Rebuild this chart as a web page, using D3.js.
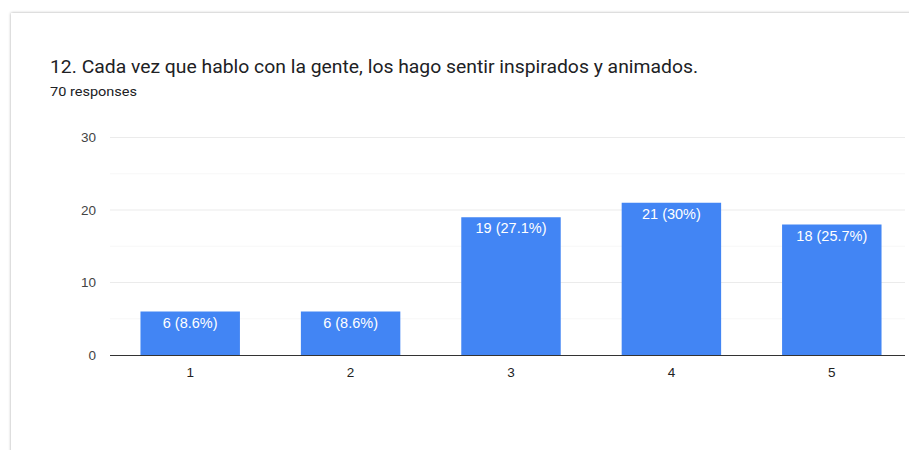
<!DOCTYPE html>
<html>
<head>
<meta charset="utf-8">
<script src="https://cdn.jsdelivr.net/npm/d3@7"></script>
<style>
  html, body { margin: 0; padding: 0; background: #fff; }
  svg { display: block; }
</style>
</head>
<body>
<svg id="chart" width="909" height="450"></svg>
<script>
// Survey question and response counts
const title = "12. Cada vez que hablo con la gente, los hago sentir inspirados y animados.";
const subtitle = "70 responses";
const categories = ["1", "2", "3", "4", "5"];
const counts = [6, 6, 19, 21, 18];
const percents = ["8.6%", "8.6%", "27.1%", "30%", "25.7%"];
const yTicks = [0, 10, 20, 30];
const yMinorTicks = [5, 15, 25];

const svg = d3.select("#chart");

// Card background with soft edge
const defs = svg.append("defs");
const f = defs.append("filter").attr("id", "shadow").attr("x", "-5%").attr("y", "-5%").attr("width", "110%").attr("height", "110%");
f.append("feDropShadow").attr("dx", 0).attr("dy", 0).attr("stdDeviation", 1.6).attr("flood-color", "#000").attr("flood-opacity", 0.35);

svg.append("rect")
  .attr("x", 11).attr("y", 13).attr("width", 930).attr("height", 460)
  .attr("fill", "#fff").attr("filter", "url(#shadow)");

svg.append("text")
  .attr("x", 50).attr("y", 73)
  .attr("font-family", "Roboto, 'Open Sans', sans-serif")
  .attr("font-size", 18).attr("fill", "#202124")
  .attr("textLength", 648).attr("lengthAdjust", "spacingAndGlyphs")
  .text(title);

svg.append("text")
  .attr("x", 50).attr("y", 95.5)
  .attr("font-family", "Roboto, sans-serif")
  .attr("font-size", 12.5).attr("fill", "#202124")
  .attr("textLength", 87).attr("lengthAdjust", "spacingAndGlyphs")
  .text(subtitle);

const plotLeft = 110, plotRight = 912, plotTop = 137.5, plotBottom = 355;

const x = d3.scaleBand().domain(categories).range([plotLeft, plotRight]).paddingInner(0.38).paddingOuter(0.19);
const y = d3.scaleLinear().domain([0, 30]).range([plotBottom, plotTop]);

// Gridlines
svg.append("g").selectAll("line").data(yMinorTicks).join("line")
  .attr("x1", plotLeft).attr("x2", 905)
  .attr("y1", d => y(d)).attr("y2", d => y(d))
  .attr("stroke", "#f7f7f7").attr("stroke-width", 1);

svg.append("g").selectAll("line").data(yTicks.filter(d => d > 0)).join("line")
  .attr("x1", plotLeft).attr("x2", 905)
  .attr("y1", d => y(d)).attr("y2", d => y(d))
  .attr("stroke", "#ebebeb").attr("stroke-width", 1);

// Y-axis labels
const yAxis = d3.axisLeft(y).tickValues(yTicks).tickSize(0).tickPadding(14);
const gy = svg.append("g").attr("transform", `translate(${plotLeft},0)`).call(yAxis);
gy.select(".domain").remove();
gy.selectAll("text")
  .attr("font-family", "Arial, 'Liberation Sans', sans-serif")
  .attr("font-size", 13.5).attr("fill", "#444");

// Bars
svg.append("g").selectAll("rect").data(categories).join("rect")
  .attr("x", d => x(d))
  .attr("y", (d, i) => y(counts[i]))
  .attr("width", x.bandwidth())
  .attr("height", (d, i) => y(0) - y(counts[i]))
  .attr("fill", "#4285f4");

// Value labels inside bars
svg.append("g").selectAll("text").data(categories).join("text")
  .attr("x", d => x(d) + x.bandwidth() / 2)
  .attr("y", (d, i) => y(counts[i]) + 16)
  .attr("text-anchor", "middle")
  .attr("font-family", "Arial, 'Liberation Sans', sans-serif")
  .attr("font-size", 14.5).attr("fill", "#fff")
  .text((d, i) => `${counts[i]} (${percents[i]})`);

// X-axis
const xAxis = d3.axisBottom(x).tickSize(0).tickPadding(12);
const gx = svg.append("g").attr("transform", `translate(0,${plotBottom})`).call(xAxis);
gx.select(".domain").attr("d", `M${plotLeft},0.5H905`).attr("stroke", "#333").attr("stroke-width", 1.2);
gx.selectAll("text")
  .attr("font-family", "Arial, 'Liberation Sans', sans-serif")
  .attr("font-size", 13.5).attr("fill", "#222");
</script>
</body>
</html>
